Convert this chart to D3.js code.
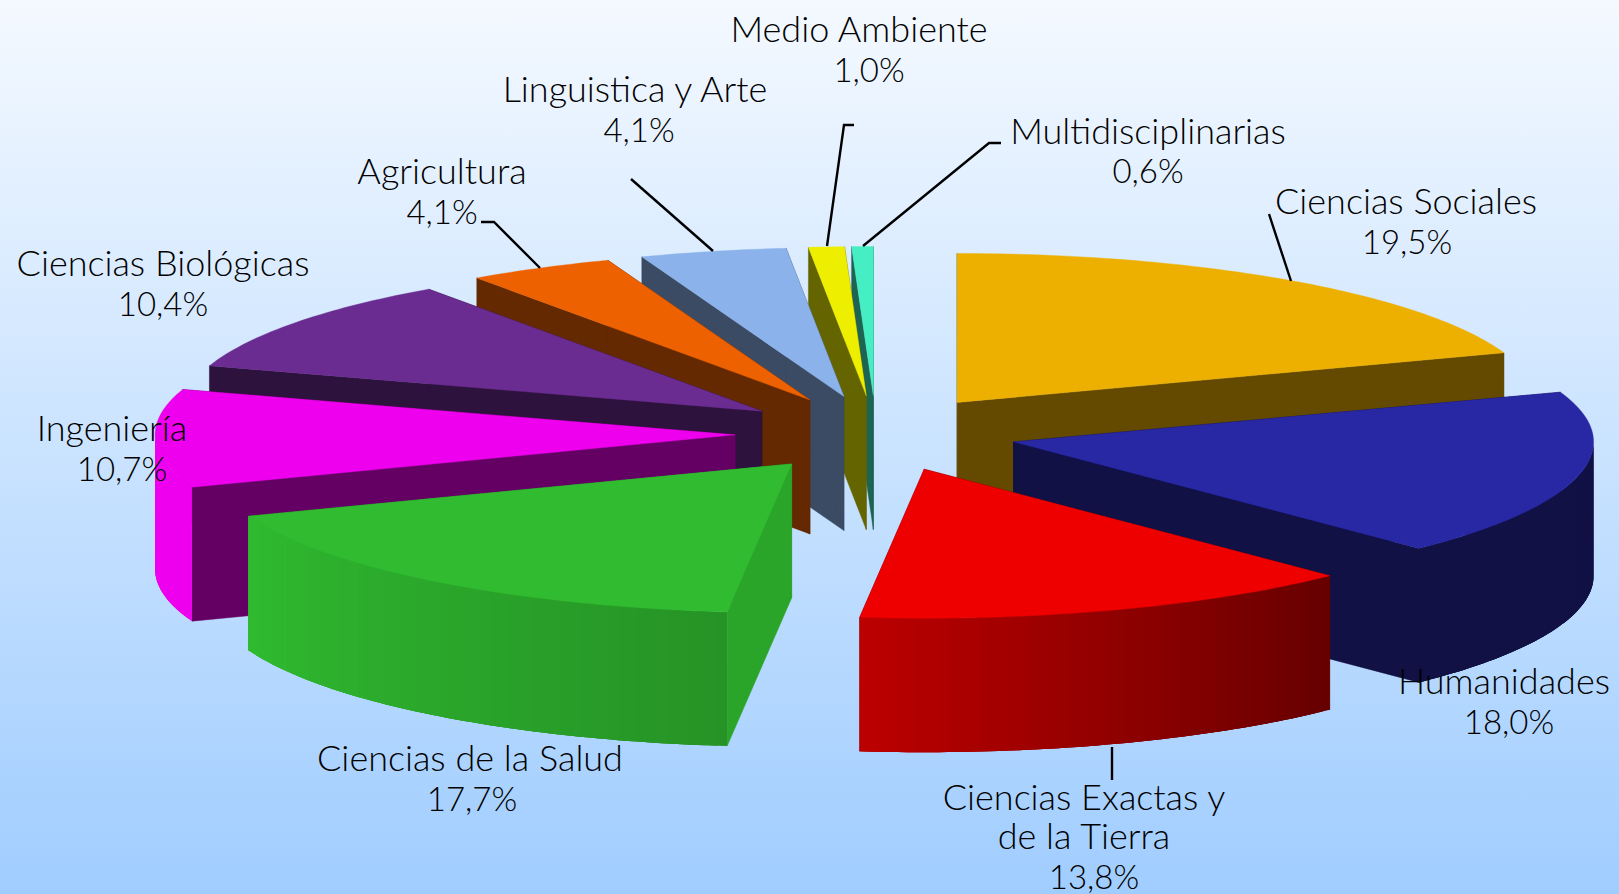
<!DOCTYPE html>
<html lang="es">
<head>
<meta charset="utf-8">
<style>
html,body{margin:0;padding:0;background:#fff;overflow:hidden}
svg{display:block}
text{font-family:Lato,"Open Sans",sans-serif;font-size:36px;font-weight:300;fill:#000;text-anchor:middle}
text.pct{font-size:33px}
</style>
<script src="https://cdn.jsdelivr.net/npm/d3@7/dist/d3.min.js"></script>
</head>
<body>
<svg id="chart" width="1619" height="894"></svg>
<script>
// ---- data, clockwise from 12 o'clock
const categories = ["Ciencias Sociales","Humanidades","Ciencias Exactas y|de la Tierra","Ciencias de la Salud","Ingeniería","Ciencias Biológicas","Agricultura","Linguistica y Arte","Medio Ambiente","Multidisciplinarias"];
const shares = [19.5,18.0,13.8,17.7,10.7,10.4,4.1,4.1,1.0,0.6];
const colors = ["#eeb000","#2828a5","#ee0000","#30bb30","#ee00ee","#6b2c91","#ee6100","#8cb2eb","#eeee00","#46eec3"];

// ---- layout and styling
const W = 1619, H = 894;
const cx = 876, cy = 433.5, rx = 580, ry = 149, depth = 134;
const explodeX = 141, explodeY = 38;
const cutShades = [.42,.42,.42,.88,.42,.42,.42,.42,.42,.42];
const labelPos = [[1406,214],[1504,694],[1084,809.5],[470,771],[112,441],[163,276],[442,184],[635,102],[859,42],[1148,143.5]];
const pctOffset = [1,5,10,2,10,0,0,4,10,0];
const leaders = [
  [[1269,214],[1291,281]],
  [[1112,747],[1112,780]],
  [[481,222],[494,222],[540,268]],
  [[631,179],[713,251]],
  [[854,125],[844,125],[827,246]],
  [[1001,143],[989,143],[863,246]]
];
const lineGap = 39.5;
const deg = Math.PI/180;
// the reference's view slightly distorts the rim; maps pie angle to drawn rim angle
const rimAngle = d3.scaleLinear().domain([0,135,184.68,250.2,360].map(d=>d*deg)).range([0,135.5,186.2,251,360].map(d=>d*deg));

const svg = d3.select("#chart");
const grad = svg.append("defs").append("linearGradient").attr("id","bg").attr("x1",0).attr("y1",0).attr("x2",0).attr("y2",1);
grad.append("stop").attr("offset",0).attr("stop-color","#f4f9ff");
grad.append("stop").attr("offset",1).attr("stop-color","#a0cdff");
svg.append("rect").attr("width",W).attr("height",H).attr("fill","url(#bg)");

const pie = d3.pie().sort(null).value(d => d);
const arcs = pie(shares).map((a,i) => ({...a, i}));
const comma = d3.formatLocale({decimal:",",thousands:".",grouping:[3],currency:["","%"]}).format(".1f");
const wallShade = d3.scaleLinear().domain([0,135*deg,185*deg,250*deg,360*deg]).range([.42,.42,.78,1,1]).clamp(true);
const line = d3.line().curve(d3.curveLinearClosed);
const scaled = (c,k) => { const r = d3.rgb(c); return d3.rgb(r.r*k,r.g*k,r.b*k).formatRgb(); };
const TOL = deg;

// painter's order: farthest slice first
const order = arcs.slice().sort((a,b) => Math.cos((b.startAngle+b.endAngle)/2) - Math.cos((a.startAngle+a.endAngle)/2));

order.forEach(a => {
  const mid = (a.startAngle+a.endAngle)/2;
  const ax = cx + explodeX*Math.sin(mid), ay = cy - explodeY*Math.cos(mid);
  const P = t => [ax + rx*Math.sin(t), ay - ry*Math.cos(t)];
  const low = p => [p[0], p[1]+depth];
  const apex = [ax,ay];
  const g = svg.append("g").attr("class","slice");
  const base = colors[a.i];
  const a0 = rimAngle(a.startAngle), a1 = rimAngle(a.endAngle);
  // cut faces
  [a0,a1].forEach(t => {
    const p = P(t);
    const c = scaled(base,cutShades[a.i]);
    g.append("path").attr("d",line([apex,p,low(p),low(apex)])).attr("fill",c).attr("stroke",c).attr("stroke-width",.5);
  });
  // outer wall, front half only; each strip runs under the next so no seams show
  const from = Math.max(a0,Math.PI/2), to = Math.min(a1,Math.PI*1.5);
  for (let t = from; t < to; t += TOL) {
    const pts = d3.range(0,4).map(k => P(Math.min(t+k*TOL,to)));
    const c = scaled(base,wallShade(Math.min(t+TOL/2,to)));
    g.append("path").attr("d",line(pts.concat(pts.map(low).reverse()))).attr("fill",c);
  }
  // top face
  const pts = [apex];
  const n = Math.ceil((a1-a0)/TOL);
  d3.range(n+1).forEach(k => pts.push(P(a0+(a1-a0)*k/n)));
  g.append("path").attr("d",line(pts)).attr("fill",base).attr("stroke",base).attr("stroke-width",.4);
});

const open = d3.line();
svg.append("g").selectAll("path").data(leaders).join("path")
  .attr("d",d => open(d)).attr("fill","none").attr("stroke","#000").attr("stroke-width",2.4);

categories.forEach((name,i) => {
  const lines = name.split("|");
  lines.forEach((s,k) => svg.append("text").attr("x",labelPos[i][0]).attr("y",labelPos[i][1]+k*lineGap).text(s));
  svg.append("text").attr("class","pct").attr("x",labelPos[i][0]+pctOffset[i]).attr("y",labelPos[i][1]+lines.length*lineGap).text(comma(shares[i])+"%");
});
</script>
</body>
</html>
